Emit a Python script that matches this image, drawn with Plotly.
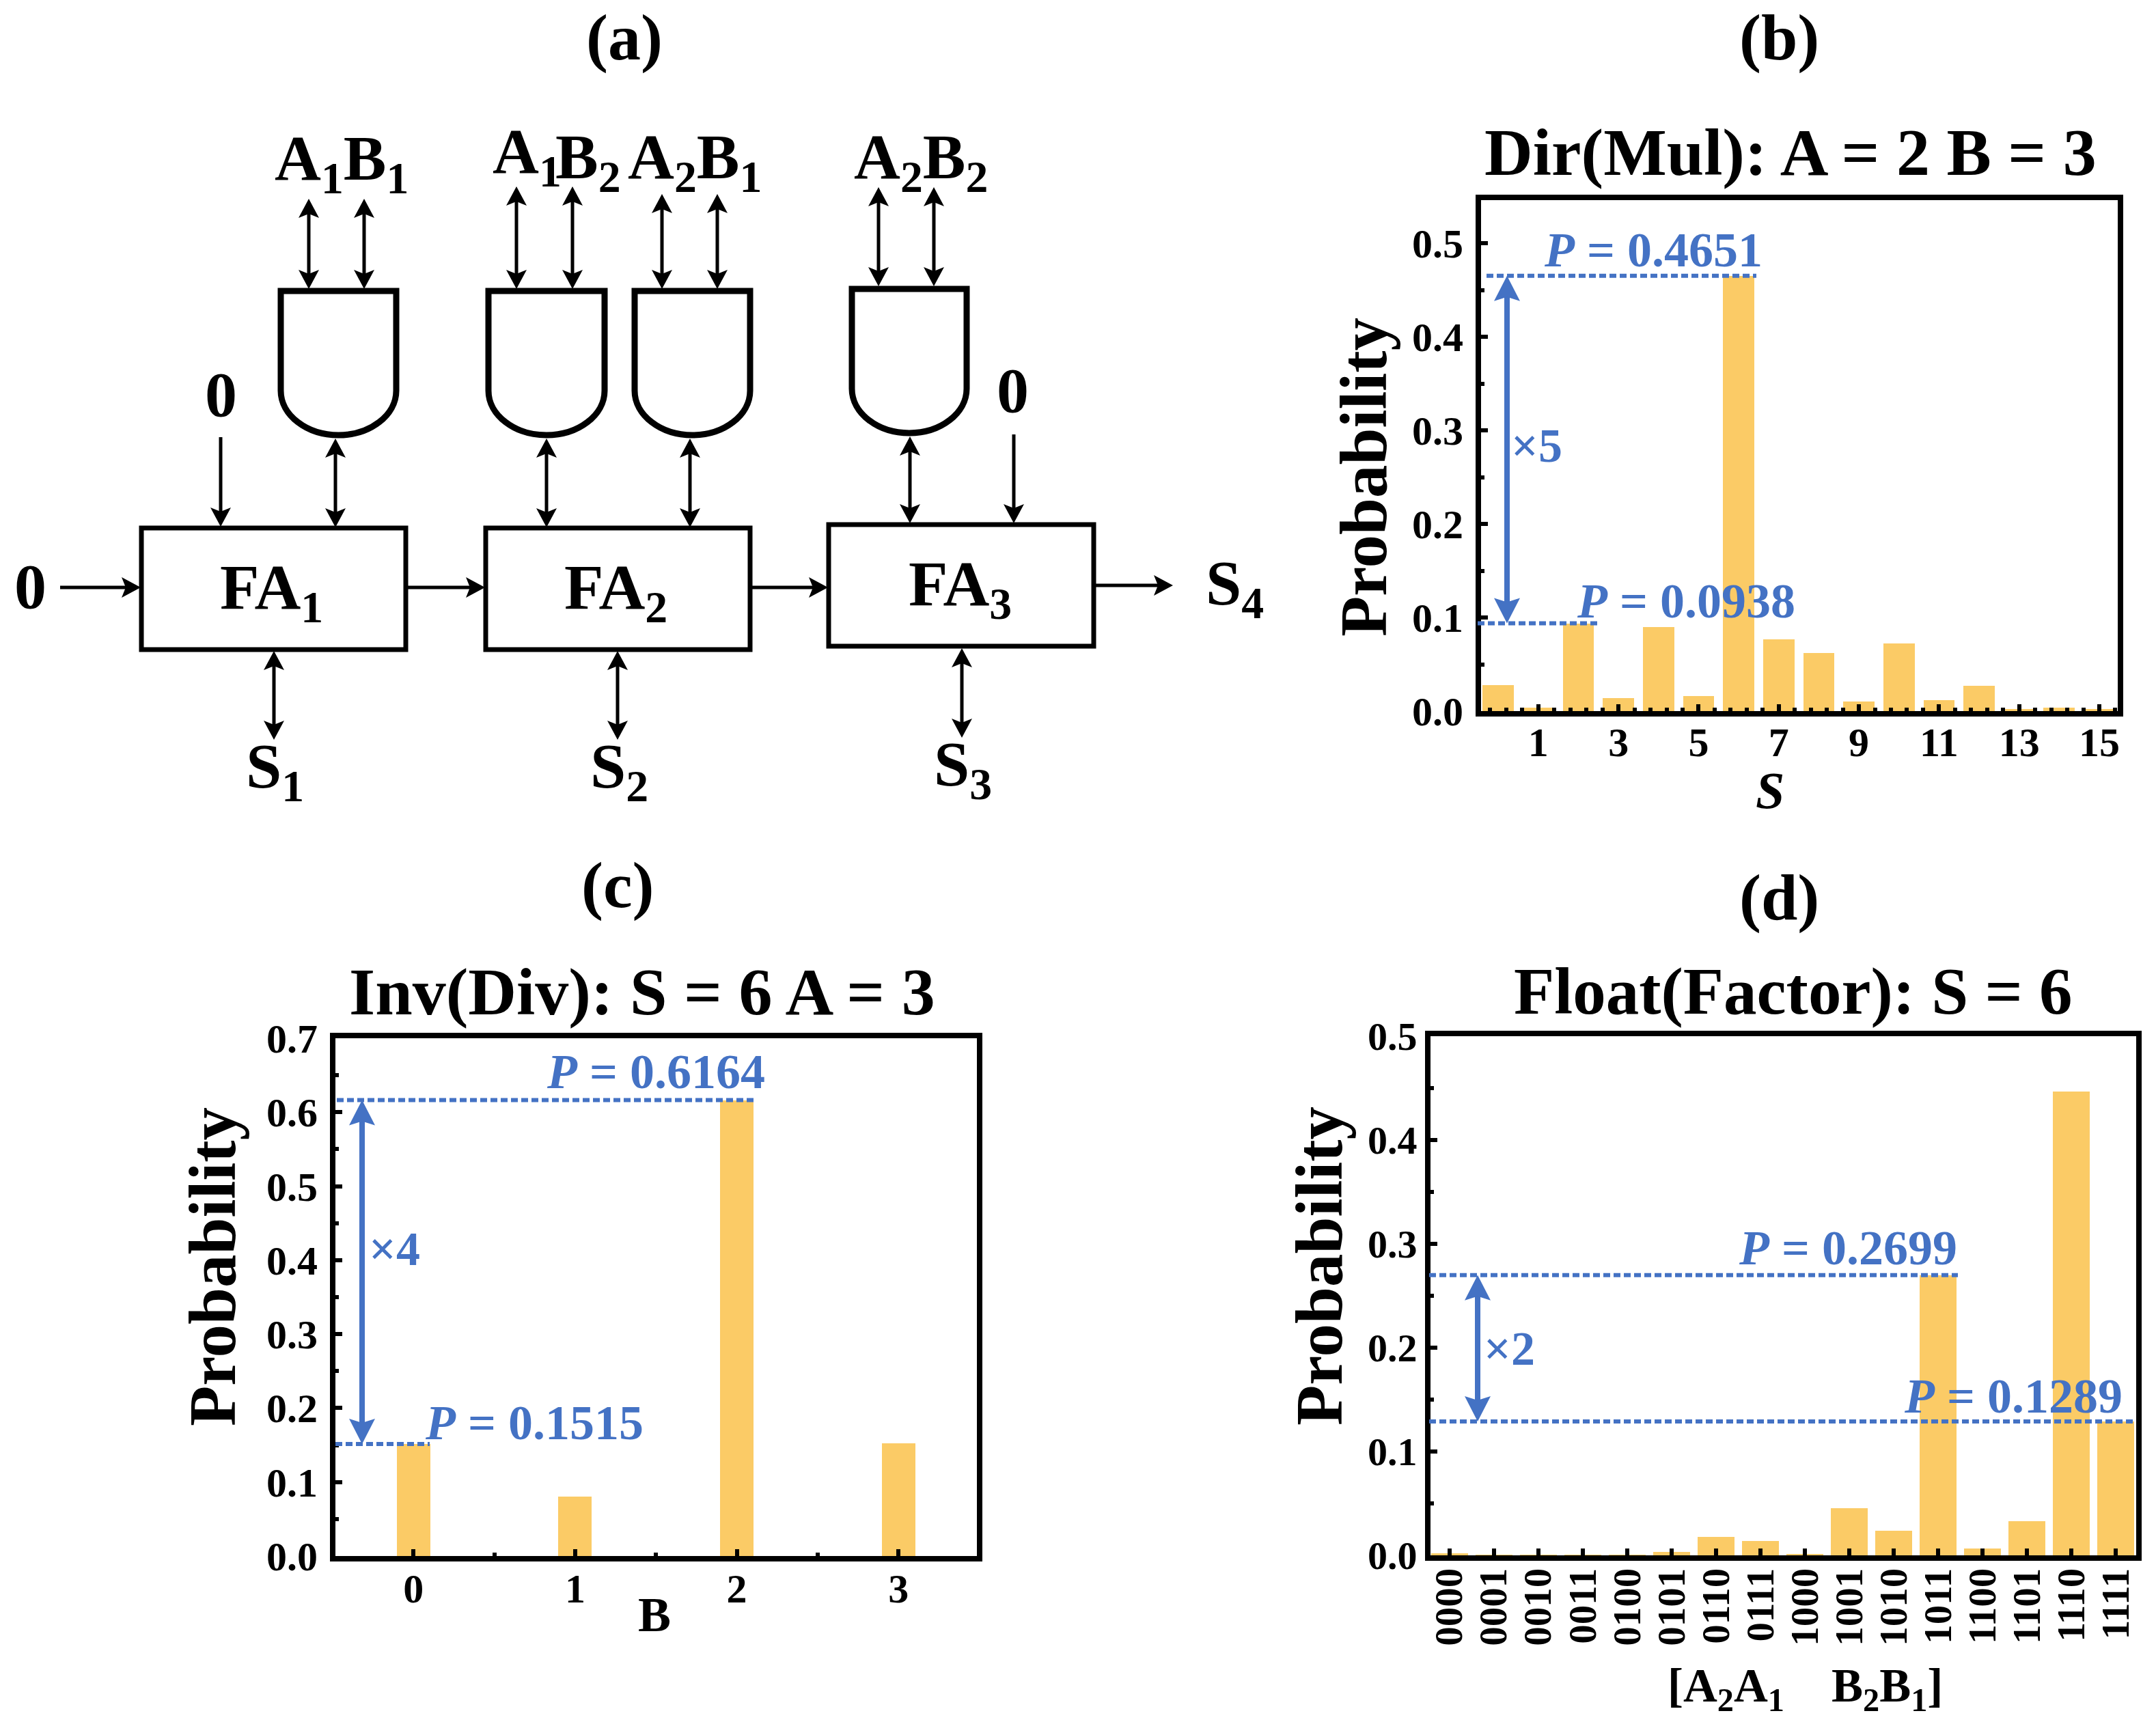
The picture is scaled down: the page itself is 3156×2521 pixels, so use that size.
import plotly.graph_objects as go

W, H = 3156, 2521
FONT = "Liberation Serif"
BLUE = "#4472C4"
BAR = "#FBCB66"

# ---------- data ----------
b_categories = list(range(16))
b_values = [0.028, 0.004, 0.0938, 0.014, 0.090, 0.016, 0.4651, 0.077, 0.062, 0.010, 0.072, 0.012, 0.027, 0.002, 0.004, 0.002]
b_ticks = [1, 3, 5, 7, 9, 11, 13, 15]
b_levels = [0.4651, 0.0938]

c_categories = [0, 1, 2, 3]
c_values = [0.1515, 0.080, 0.6164, 0.152]
c_levels = [0.6164, 0.1515]

d_categories = ["0000", "0001", "0010", "0011", "0100", "0101", "0110", "0111",
                "1000", "1001", "1010", "1011", "1100", "1101", "1110", "1111"]
d_values = [0.002, 0.0005, 0.0005, 0.0005, 0.0005, 0.003, 0.0176, 0.014, 0.001, 0.0454, 0.024, 0.2699, 0.0063, 0.033, 0.447, 0.1289]
d_levels = [0.2699, 0.1289]

# ---------- helpers ----------
def px(x): return x / W
def py(y): return 1 - y / H

shapes, annos = [], []

def label(text, x, y, size=94, anchor="left", color="black", angle=0):
    annos.append(dict(text=text, x=px(x), y=py(y), xref="paper", yref="paper", showarrow=False,
                      xanchor=anchor, yanchor="middle", textangle=angle,
                      font=dict(family=FONT, size=size, color=color, weight=700)))

def seg(x0, y0, x1, y1, width=5, color="black"):
    shapes.append(dict(type="line", xref="paper", yref="paper", x0=px(x0), y0=py(y0), x1=px(x1), y1=py(y1),
                       line=dict(color=color, width=width), layer="above"))

def head(xt, yt, dx, dy, length=28, half=15, color="black", notch=6):
    bx, by = xt - dx * length, yt - dy * length
    nx, ny = xt - dx * (length - notch), yt - dy * (length - notch)
    p1 = (bx - dy * half, by + dx * half)
    p2 = (bx + dy * half, by - dx * half)
    path = f"M {px(xt)} {py(yt)} L {px(p1[0])} {py(p1[1])} L {px(nx)} {py(ny)} L {px(p2[0])} {py(p2[1])} Z"
    shapes.append(dict(type="path", xref="paper", yref="paper", path=path, fillcolor=color,
                       line=dict(width=0), layer="above"))

def arrow(x0, y0, x1, y1, double=False):
    L = ((x1 - x0) ** 2 + (y1 - y0) ** 2) ** 0.5
    dx, dy = (x1 - x0) / L, (y1 - y0) / L
    seg(x0 + (dx * 10 if double else 0), y0 + (dy * 10 if double else 0), x1 - dx * 10, y1 - dy * 10)
    head(x1, y1, dx, dy)
    if double:
        head(x0, y0, -dx, -dy)

def box(l, t, r, b):
    shapes.append(dict(type="rect", xref="paper", yref="paper", x0=px(l), x1=px(r), y0=py(b), y1=py(t),
                       line=dict(color="black", width=7), layer="above"))

def gate(l, t, r, sh, b):
    cx = (l + r) / 2
    k = 0.55
    w, h = (r - l) / 2, b - sh
    path = (f"M {px(l)} {py(t)} L {px(r)} {py(t)} L {px(r)} {py(sh)} "
            f"C {px(r)} {py(sh + k * h)} {px(cx + k * w)} {py(b)} {px(cx)} {py(b)} "
            f"C {px(cx - k * w)} {py(b)} {px(l)} {py(sh + k * h)} {px(l)} {py(sh)} Z")
    shapes.append(dict(type="path", xref="paper", yref="paper", path=path,
                       line=dict(color="black", width=9), layer="above"))

# ---------- schematic ----------
box(207, 773, 594, 951); box(711, 773, 1098, 951); box(1213, 768, 1601, 946)
gate(411, 426, 580, 572, 637); gate(715, 426, 885, 572, 637)
gate(929, 426, 1098, 572, 637); gate(1247, 423, 1415, 569, 634)

for x, y0, y1 in [(452, 291, 423), (533, 291, 423), (756, 273, 423), (838, 273, 423),
                  (969, 284, 423), (1050, 284, 423), (1286, 274, 419), (1367, 274, 419),
                  (491, 642, 772), (800, 642, 772), (1010, 642, 772), (1332, 639, 766),
                  (401, 953, 1083), (904, 953, 1083), (1408, 949, 1080)]:
    arrow(x, y0, x, y1, double=True)
for x0, y0, x1, y1 in [(323, 640, 323, 771), (1484, 636, 1484, 766), (88, 860, 206, 860),
                       (597, 860, 710, 860), (1100, 860, 1212, 860), (1603, 857, 1717, 857)]:
    arrow(x0, y0, x1, y1)

label("A<sub>1</sub>B<sub>1</sub>", 400, 238)
label("A<sub>1</sub>", 719, 228)
label("B<sub>2</sub>", 811, 236)
label("A<sub>2</sub>B<sub>1</sub>", 917, 236)
label("A<sub>2</sub>B<sub>2</sub>", 1248, 236)
label("0", 323, 577, anchor="center")
label("0", 44, 858, anchor="center")
label("0", 1482, 571, anchor="center")
label("FA<sub>1</sub>", 320, 866)
label("FA<sub>2</sub>", 824, 866)
label("FA<sub>3</sub>", 1328, 861)
label("S<sub>1</sub>", 358, 1128)
label("S<sub>2</sub>", 862, 1128)
label("S<sub>3</sub>", 1365, 1125)
label("S<sub>4</sub>", 1763, 860)

label("(a)", 914, 54, size=96, anchor="center")
label("(b)", 2604, 54, size=96, anchor="center")
label("(c)", 904, 1295, size=96, anchor="center")
label("(d)", 2604, 1313, size=96, anchor="center")

# ---------- panels ----------
label("Dir(Mul): A = 2 B = 3", 2621, 223, size=98, anchor="center")
label("Inv(Div): S = 6 A = 3", 940, 1452, size=98, anchor="center")
label("Float(Factor): S = 6", 2625, 1451, size=97, anchor="center")
label("Probability", 1996, 699, size=97, anchor="center", angle=-90)
label("Probability", 311, 1855, size=97, anchor="center", angle=-90)
label("Probability", 1932, 1854, size=97, anchor="center", angle=-90)
label("<i>S</i>", 2591, 1157, size=76, anchor="center")
label("B", 958, 2364, size=72, anchor="center")
label("[A<sub>2</sub>A<sub>1</sub>\u00a0\u00a0\u00a0\u00a0B<sub>2</sub>B<sub>1</sub>]", 2642, 2472, size=69, anchor="center")

def level(yref, x0, x1, v):
    shapes.append(dict(type="line", xref="paper", yref=yref, x0=px(x0), x1=px(x1), y0=v, y1=v,
                       line=dict(color=BLUE, width=6, dash="10px,5px"), layer="above"))

def blue_arrow(yref, x, v0, v1, unit_px):
    hl = 37
    half = 19
    shapes.append(dict(type="line", xref="paper", yref=yref, x0=px(x), x1=px(x),
                       y0=v0 - 20 / unit_px, y1=v1 + 20 / unit_px,
                       line=dict(color=BLUE, width=8), layer="above"))
    for tip, s in ((v0, -1), (v1, 1)):
        base = tip + s * hl / unit_px
        notch = tip + s * (hl - 6) / unit_px
        path = (f"M {px(x)} {tip} L {px(x - half)} {base} L {px(x)} {notch} L {px(x + half)} {base} Z")
        shapes.append(dict(type="path", xref="paper", yref=yref, path=path, fillcolor=BLUE,
                           line=dict(width=0), layer="above"))

BX = (2168, 3100); BY = (293, 1041); BR = (-0.43, 15.46); BV = 0.546
CX = (491, 1430); CY = (1520, 2278); CR = (-0.483, 3.485); CV = 0.7
DX = (2094, 3127); DY = (1517, 2277); DR = (-0.43, 15.46); DV = 0.5

level("y", 2176, 2571, b_levels[0]); level("y", 2163, 2339, b_levels[1])
blue_arrow("y", 2206, b_levels[0], b_levels[1], (BY[1] - BY[0]) / BV)
label(f"<i>P</i> = {b_levels[0]}", 2258, 366, size=72, color=BLUE)
label(f"<i>P</i> = {b_levels[1]}", 2306, 880, size=72, color=BLUE)
label("×5", 2210, 652, size=70, color=BLUE)

level("y2", 493, 1106, c_levels[0]); level("y2", 491, 629, c_levels[1])
blue_arrow("y2", 530, c_levels[0], c_levels[1], (CY[1] - CY[0]) / CV)
label(f"<i>P</i> = {c_levels[0]}", 798, 1569, size=72, color=BLUE)
label(f"<i>P</i> = {c_levels[1]}", 620, 2083, size=72, color=BLUE)
label("×4", 538, 1828, size=70, color=BLUE)

level("y3", 2092, 2866, d_levels[0]); level("y3", 2092, 3124, d_levels[1])
blue_arrow("y3", 2163, d_levels[0], d_levels[1], (DY[1] - DY[0]) / DV)
label(f"<i>P</i> = {d_levels[0]}", 2543, 1827, size=72, color=BLUE)
label(f"<i>P</i> = {d_levels[1]}", 2785, 2044, size=72, color=BLUE)
label("×2", 2170, 1974, size=70, color=BLUE)

fig = go.Figure()
fig.add_trace(go.Bar(x=b_categories, y=b_values, width=0.78, marker=dict(color=BAR, line=dict(width=0)), xaxis="x", yaxis="y"))
fig.add_trace(go.Bar(x=c_categories, y=c_values, width=0.207, marker=dict(color=BAR, line=dict(width=0)), xaxis="x2", yaxis="y2"))
fig.add_trace(go.Bar(x=d_categories, y=d_values, width=0.82, marker=dict(color=BAR, line=dict(width=0)), xaxis="x3", yaxis="y3"))

def tf(size):
    return dict(family=FONT, size=size, color="black", weight=700)

def xax(dom, rng, anchor, **kw):
    return dict(domain=[px(dom[0]), px(dom[1])], range=list(rng), anchor=anchor, automargin=False,
                showline=True, linecolor="black", linewidth=8, mirror=True, showgrid=False, zeroline=False,
                ticks="inside", ticklen=10, tickwidth=6, tickcolor="black", **kw)

def yax(dom, rng, anchor, size, standoff):
    return dict(domain=[py(dom[1]), py(dom[0])], range=list(rng), anchor=anchor, automargin=False,
                showline=True, linecolor="black", linewidth=8, mirror=True, showgrid=False, zeroline=False,
                ticks="inside", ticklen=10, tickwidth=6, tickcolor="black", tickfont=tf(size),
                tickmode="array", tickvals=[0, 0.1, 0.2, 0.3, 0.4, 0.5, 0.6, 0.7],
                ticktext=["0.0", "0.1", "0.2", "0.3", "0.4", "0.5", "0.6", "0.7"],
                minor=dict(ticks="inside", ticklen=5, tickwidth=6, tickcolor="black", dtick=0.05, tick0=0, showgrid=False),
                ticklabelstandoff=standoff)

fig.update_layout(
    width=W, height=H, autosize=False, margin=dict(l=0, r=0, t=0, b=0, pad=0, autoexpand=False),
    paper_bgcolor="white", plot_bgcolor="white", showlegend=False, bargap=0,
    xaxis=xax(BX, BR, "y", tickmode="array", tickvals=b_ticks, ticktext=[str(t) for t in b_ticks], tickfont=tf(60),
              minor=dict(ticks="inside", ticklen=5, tickwidth=6, tickcolor="black", dtick=0.4, tick0=0.2, showgrid=False),
              ticklabelstandoff=-14),
    yaxis=yax(BY, (0, BV), "x", 60, 6),
    xaxis2=xax(CX, CR, "y2", tickmode="array", tickvals=c_categories, ticktext=[str(t) for t in c_categories], tickfont=tf(60),
               minor=dict(ticks="inside", ticklen=5, tickwidth=6, tickcolor="black", dtick=0.5, tick0=0.5, showgrid=False),
               ticklabelstandoff=-12),
    yaxis2=yax(CY, (0, CV), "x2", 60, 6),
    xaxis3=xax(DX, DR, "y3", type="category", tickangle=-90, ticklabelstandoff=-12, tickfont=tf(57),
               tickmode="array", tickvals=d_categories, ticktext=d_categories),
    yaxis3=yax(DY, (0, DV), "x3", 58, 0),
    shapes=shapes, annotations=annos,
)
fig.write_html("out.html", config=dict(displayModeBar=False), post_script="document.body.style.margin='0';")
